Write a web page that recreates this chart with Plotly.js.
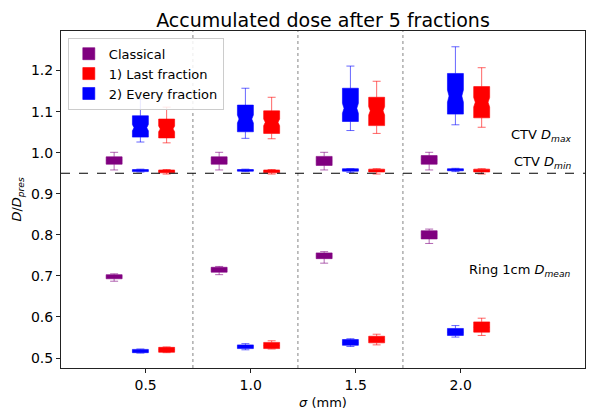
<!DOCTYPE html>
<html>
<head>
<meta charset="utf-8">
<script src="https://cdn.plot.ly/plotly-3.0.1.min.js"></script>
<style>
  html, body { margin: 0; padding: 0; background: #fff; }
  #plot { width: 600px; height: 420px; }
</style>
</head>
<body>
<div id="plot"></div>
<script>
// sigma values (mm) and tick labels
const sigmas = [0.5, 1.0, 1.5, 2.0];
const sigmaLabels = ['0.5', '1.0', '1.5', '2.0'];

// Classical
const classicalMaxLo  = [0.958, 0.958, 0.958, 0.958];
const classicalMaxQ1  = [0.972, 0.972, 0.969, 0.972];
const classicalMaxMed = [0.982, 0.982, 0.980, 0.983];
const classicalMaxQ3  = [0.990, 0.990, 0.991, 0.993];
const classicalMaxHi  = [1.001, 1.001, 1.001, 1.001];
const classicalRingLo  = [0.687, 0.703, 0.731, 0.779];
const classicalRingQ1  = [0.693, 0.709, 0.742, 0.790];
const classicalRingMed = [0.698, 0.715, 0.748, 0.800];
const classicalRingQ3  = [0.703, 0.721, 0.756, 0.810];
const classicalRingHi  = [0.705, 0.723, 0.759, 0.814];

// 1) Last fraction
const lastMaxLo  = [1.024, 1.034, 1.047, 1.062];
const lastMaxQ1  = [1.036, 1.047, 1.066, 1.085];
const lastMaxMed = [1.058, 1.074, 1.102, 1.123];
const lastMaxQ3  = [1.082, 1.102, 1.135, 1.161];
const lastMaxHi  = [1.111, 1.135, 1.174, 1.207];
const lastMinLo  = [0.948, 0.948, 0.948, 0.948];
const lastMinQ1  = [0.951, 0.951, 0.953, 0.953];
const lastMinMed = [0.954, 0.954, 0.956, 0.956];
const lastMinQ3  = [0.958, 0.958, 0.960, 0.960];
const lastMinHi  = [0.959, 0.959, 0.961, 0.961];
const lastRingLo  = [0.513, 0.522, 0.532, 0.555];
const lastRingQ1  = [0.514, 0.523, 0.537, 0.563];
const lastRingMed = [0.520, 0.530, 0.544, 0.575];
const lastRingQ3  = [0.526, 0.538, 0.553, 0.588];
const lastRingHi  = [0.527, 0.542, 0.558, 0.597];

// 2) Every fraction
const everyMaxLo  = [1.026, 1.035, 1.054, 1.068];
const everyMaxQ1  = [1.038, 1.051, 1.076, 1.094];
const everyMaxMed = [1.061, 1.082, 1.108, 1.138];
const everyMaxQ3  = [1.090, 1.116, 1.157, 1.193];
const everyMaxHi  = [1.131, 1.157, 1.211, 1.258];
const everyMinLo  = [0.953, 0.954, 0.952, 0.954];
const everyMinQ1  = [0.954, 0.955, 0.955, 0.956];
const everyMinMed = [0.956, 0.957, 0.958, 0.958];
const everyMinQ3  = [0.959, 0.959, 0.961, 0.961];
const everyMinHi  = [0.960, 0.960, 0.961, 0.962];
const everyRingLo  = [0.512, 0.520, 0.528, 0.551];
const everyRingQ1  = [0.513, 0.523, 0.531, 0.555];
const everyRingMed = [0.517, 0.527, 0.537, 0.563];
const everyRingQ3  = [0.521, 0.532, 0.545, 0.572];
const everyRingHi  = [0.522, 0.535, 0.547, 0.579];

const FONT = 'DejaVu Sans, Liberation Sans, sans-serif';
const BOXW = 0.076;

// one box trace per series and metric
function boxTrace(name, color, edge, offset, lo, q1, med, q3, hi, showLegend, notched) {
  const t = {
    type: 'box',
    name: name,
    legendgroup: name,
    showlegend: showLegend,
    x: sigmas.map(s => s + offset),
    lowerfence: lo, q1: q1, median: med, q3: q3, upperfence: hi,
    width: BOXW,
    whiskerwidth: 0.5,
    fillcolor: color,
    line: { color: edge, width: 1 },
    boxpoints: false,
    hoverinfo: 'skip'
  };
  if (notched) {
    t.notched = true;
    t.notchwidth = 0.1;
    t.notchspan = q1.map((v, i) => (q3[i] - v) * 0.15);
  }
  return t;
}

const PURPLE = '#800080', RED = '#ff0000', BLUE = '#0000ff';
const PURPLE_E = 'rgba(128,0,128,0.6)', RED_E = 'rgba(255,0,0,0.6)', BLUE_E = 'rgba(0,0,255,0.6)';
const traces = [
  boxTrace('Classical', PURPLE, PURPLE_E, -0.15, classicalMaxLo, classicalMaxQ1, classicalMaxMed, classicalMaxQ3, classicalMaxHi, true, false),
  boxTrace('Classical', PURPLE, PURPLE_E, -0.15, classicalRingLo, classicalRingQ1, classicalRingMed, classicalRingQ3, classicalRingHi, false, false),
  boxTrace('1) Last fraction', RED, RED_E, 0.1, lastMaxLo, lastMaxQ1, lastMaxMed, lastMaxQ3, lastMaxHi, true, true),
  boxTrace('1) Last fraction', RED, RED_E, 0.1, lastMinLo, lastMinQ1, lastMinMed, lastMinQ3, lastMinHi, false, false),
  boxTrace('1) Last fraction', RED, RED_E, 0.1, lastRingLo, lastRingQ1, lastRingMed, lastRingQ3, lastRingHi, false, false),
  boxTrace('2) Every fraction', BLUE, BLUE_E, -0.025, everyMaxLo, everyMaxQ1, everyMaxMed, everyMaxQ3, everyMaxHi, true, true),
  boxTrace('2) Every fraction', BLUE, BLUE_E, -0.025, everyMinLo, everyMinQ1, everyMinMed, everyMinQ3, everyMinHi, false, false),
  boxTrace('2) Every fraction', BLUE, BLUE_E, -0.025, everyRingLo, everyRingQ1, everyRingMed, everyRingQ3, everyRingHi, false, false)
];

// separators between sigma groups
const separators = [0.725, 1.225, 1.725];
const shapes = separators.map(x => ({
  type: 'line', xref: 'x', yref: 'paper', x0: x, x1: x, y0: 0, y1: 1,
  line: { color: '#999', width: 1.2, dash: 'dot' }
}));
shapes.push({
  type: 'line', xref: 'paper', yref: 'y', x0: 0, x1: 1, y0: 0.95, y1: 0.95,
  line: { color: '#000', width: 1.2, dash: 'dash' }
});

const labelFont = { family: FONT, size: 13, color: '#000' };
const annotations = [
  { text: 'CTV <i>D</i><sub><i>max</i></sub>', x: 2.535, y: 1.041 },
  { text: 'CTV <i>D</i><sub><i>min</i></sub>', x: 2.535, y: 0.975 },
  { text: 'Ring 1cm <i>D</i><sub><i>mean</i></sub>', x: 2.535, y: 0.713 }
].map(a => Object.assign(a, { xref: 'x', yref: 'y', xanchor: 'right', yanchor: 'middle', showarrow: false, font: labelFont }));

const layout = {
  width: 600, height: 420,
  margin: { l: 61, r: 15, t: 31, b: 52 },
  paper_bgcolor: '#fff', plot_bgcolor: '#fff',
  font: { family: FONT, size: 13, color: '#000' },
  title: { text: 'Accumulated dose after 5 fractions', font: { family: FONT, size: 19, color: '#000' },
           x: 0.5, xref: 'paper', xanchor: 'center', y: 0.952, yref: 'container', yanchor: 'middle' },
  boxmode: 'overlay',
  showlegend: true,
  legend: { x: 0.013, y: 0.98, xanchor: 'left', yanchor: 'top', bgcolor: 'rgba(255,255,255,0.85)',
            bordercolor: '#ccc', borderwidth: 1, font: { family: FONT, size: 13 }, traceorder: 'normal',
            tracegroupgap: 0 },
  xaxis: {
    range: [0.097, 2.592], tickvals: sigmas, ticktext: sigmaLabels,
    showgrid: false, zeroline: false, showline: true, mirror: true, linecolor: '#222', linewidth: 1,
    ticks: 'outside', ticklen: 4, tickcolor: '#222', tickfont: { size: 14 },
    title: { text: '<i>σ</i> (mm)', font: { size: 13 }, standoff: 6 }
  },
  yaxis: {
    range: [0.4757, 1.2964], tickvals: [0.5, 0.6, 0.7, 0.8, 0.9, 1.0, 1.1, 1.2], tickformat: '.1f',
    showgrid: false, zeroline: false, showline: true, mirror: true, linecolor: '#222', linewidth: 1,
    ticks: 'outside', ticklen: 4, tickcolor: '#222', tickfont: { size: 14 },
    title: { text: '<i>D</i>/<i>D</i><sub><i>pres</i></sub>', font: { size: 13 }, standoff: 6 }
  },
  shapes: shapes,
  annotations: annotations
};

Plotly.newPlot('plot', traces, layout, { displayModeBar: false, staticPlot: true });
</script>
</body>
</html>
